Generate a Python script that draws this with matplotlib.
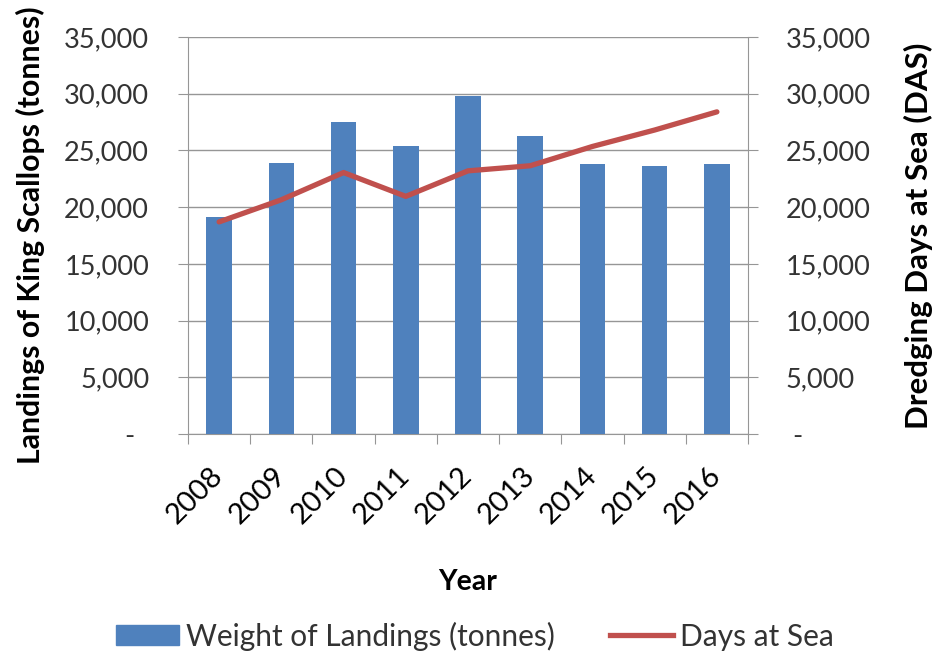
import matplotlib
matplotlib.use("Agg")
import matplotlib.pyplot as plt
from matplotlib.ticker import FuncFormatter
from matplotlib.lines import Line2D
from matplotlib.patches import Patch
from matplotlib.transforms import ScaledTranslation
import numpy as np

years = ["2008", "2009", "2010", "2011", "2012", "2013", "2014", "2015", "2016"]
landings = [19100, 23900, 27500, 25350, 29800, 26250, 23800, 23600, 23800]
days_at_sea = [18700, 20650, 23050, 20950, 23200, 23650, 25350, 26800, 28400]
yticks = [0, 5000, 10000, 15000, 20000, 25000, 30000, 35000]

plt.rcParams['font.family'] = ['Lato', 'DejaVu Sans']

BLUE = "#4F81BD"
RED = "#C0504D"
GRID = "#969696"
TXT = "#333333"

fig = plt.figure(figsize=(9.32, 6.58), dpi=100)
ax = fig.add_axes([188 / 932, 1 - 434 / 658, 560 / 932, 397 / 658])
ax2 = ax.twinx()

x = np.arange(len(years))
ax.bar(x, landings, width=0.41, color=BLUE, zorder=3)
ax2.plot(x, days_at_sea, color=RED, lw=3.8, solid_capstyle='round', zorder=4)

for a in (ax, ax2):
    a.set_ylim(0, 35000)
    a.set_yticks(yticks)
    a.set_xlim(-0.5, len(years) - 0.5)
    for s in a.spines.values():
        s.set_visible(False)

ax.yaxis.set_major_formatter(FuncFormatter(lambda v, p: "-  " if v == 0 else f"{int(v):,}"))
ax2.yaxis.set_major_formatter(FuncFormatter(lambda v, p: " -" if v == 0 else f"{int(v):,}"))

ax.spines['left'].set_visible(True)
ax.spines['left'].set_color(GRID)
ax.spines['bottom'].set_visible(True)
ax.spines['bottom'].set_color(GRID)
ax2.spines['right'].set_visible(True)
ax2.spines['right'].set_color(GRID)

ax.yaxis.grid(True, color=GRID, lw=1.0, zorder=0)
ax.set_axisbelow(True)

ax.set_xticks(np.arange(len(years) + 1) - 0.5, minor=False)
ax.set_xticklabels([])
ax.set_xticks(x, minor=True)
ax.set_xticklabels(years, minor=True, rotation=45, ha='right', va='center',
                   rotation_mode='anchor', fontsize=21, color='black')
ax.tick_params(axis='x', which='minor', length=0, pad=25)
ax.tick_params(axis='x', which='major', length=7, color=GRID)
shift = ScaledTranslation(0.0, -0.03, fig.dpi_scale_trans)
for lab in ax.get_xticklabels(minor=True):
    lab.set_transform(lab.get_transform() + shift)

ax.tick_params(axis='y', length=7, color=GRID, labelsize=19.5, labelcolor=TXT, pad=21)
ax2.tick_params(axis='y', length=7, color=GRID, labelsize=19.5, labelcolor=TXT, pad=20)

ax.set_ylabel("Landings of King Scallops (tonnes)", fontsize=21.8, fontweight='bold')
ax.yaxis.set_label_coords((30 - 188) / 560, 0.5)
ax.yaxis.label.set_va('center')
ax2.set_ylabel("Dredging Days at Sea (DAS)", fontsize=22.5, fontweight='bold')
ax2.yaxis.set_label_coords((918 - 188) / 560, 0.5)
ax2.yaxis.label.set_va('center')
ax.set_xlabel("Year", fontsize=20.5, fontweight='bold')
ax.xaxis.set_label_coords(0.5, (434 - 582) / 397)
ax.xaxis.label.set_va('center')

handles = [Patch(color=BLUE), Line2D([0], [0], color=RED, lw=3.8)]
labels = ["Weight of Landings (tonnes)", "Days at Sea"]
fig.legend(handles, labels, loc='center', bbox_to_anchor=(475 / 932, 22 / 658), ncol=2,
           frameon=False, fontsize=21.5, handlelength=2.1, handleheight=0.65,
           handletextpad=0.23, columnspacing=1.85, labelcolor=TXT,
           borderpad=0, borderaxespad=0)

fig.savefig("out.png", dpi=100)
